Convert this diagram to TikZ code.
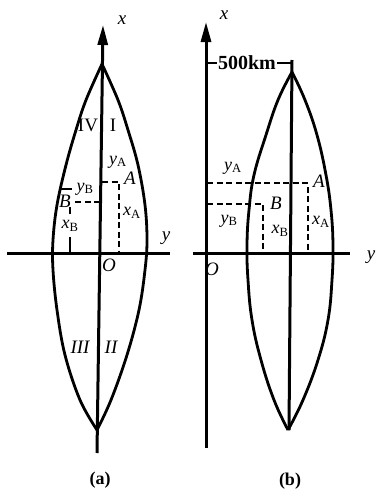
\documentclass[tikz,border=0pt]{standalone}
\usepackage{fontspec}
\setmainfont{Liberation Serif}
\usetikzlibrary{arrows.meta}
\newcommand{\mysub}[2]{\textit{#1}\textsubscript{\normalfont #2}}
\begin{document}
\begin{tikzpicture}[x=1pt,y=-1pt,
  axln/.style={line width=3pt},
  lensln/.style={line width=2.8pt, line join=round},
  dsh/.style={line width=2.2pt, dash pattern=on 6pt off 3.5pt},
  lbl/.style={font=\fontsize{19}{19}\selectfont\itshape, inner sep=0pt},
  sl/.style={font=\fontsize{18}{18}\selectfont, inner sep=0pt},
  rn/.style={font=\fontsize{19}{19}\selectfont, inner sep=0pt},
  captxt/.style={font=\fontsize{18}{18}\selectfont\bfseries, inner sep=0pt},
  axtip/.style={-{Triangle[length=20pt,width=10pt]}}
]
\useasboundingbox (0,0) rectangle (379,493);
% ---------- panel (a) ----------
\coordinate (aXb) at (97,453);
\coordinate (aXt) at (103,25);
\coordinate (aYl) at (7,253);
\coordinate (aYr) at (170,253);
\draw[axln,axtip] (aXb) -- (aXt);
\draw[axln] (aYl) -- (aYr);
\draw[lensln] plot[smooth,tension=0.6] coordinates {(102,64) (86,100) (76,130) (66,165) (57,205) (53,240) (53,270) (57,310) (65,355) (80,400) (97,430)};
\draw[lensln] plot[smooth,tension=0.6] coordinates {(102,64) (118,100) (128,130) (138,165) (145,205) (147,240) (145,270) (139,310) (127,355) (111,400) (97,430)};
% A
\coordinate (aA0) at (102,182);
\coordinate (aA1) at (119,182);
\coordinate (aA2) at (119,253);
\draw[dsh] (aA0) -- (aA1) -- (aA2);
% B
\coordinate (aB0) at (100,202);
\coordinate (aB1) at (72,202);
\coordinate (aB2) at (70,207);
\coordinate (aB3) at (70,214);
\coordinate (aB4) at (70,237);
\coordinate (aB5) at (70,253);
\draw[dsh] (aB0) -- (aB1);
\draw[line width=2.2pt] (aB2) -- (aB3);
\draw[line width=2.2pt] (aB4) -- (aB5);
\coordinate (aT0) at (60,189);
\coordinate (aT1) at (72,189);
\draw[line width=1.8pt] (aT0) -- (aT1);
% labels
\node[lbl] (ax) at (122,20) {x};
\node[lbl] (ay) at (166,238) {y};
\node[lbl] (aO) at (109,265) {O};
\node[rn] (aIV) at (88,125) {IV};
\node[rn] (aI) at (113,125) {I};
\node[rn,font=\fontsize{19}{19}\selectfont\itshape] (aIII) at (80,347) {III};
\node[rn,font=\fontsize{19}{19}\selectfont\itshape] (aII) at (111,347) {II};
\node[sl] (ayA) at (118,162) {\mysub{y}{A}};
\node[lbl] (aA) at (130,178) {A};
\node[sl] (ayB) at (85,189) {\mysub{y}{B}};
\node[lbl] (aB) at (65,201) {B};
\node[sl] (axA) at (132,213) {\mysub{x}{A}};
\node[sl] (axB) at (70,226) {\mysub{x}{B}};
\node[captxt] (capa) at (100,480) {(a)};
% ---------- panel (b) ----------
\coordinate (bXb) at (206,448);
\coordinate (bXt) at (206,22);
\coordinate (bYl) at (193,253);
\coordinate (bYr) at (350,253);
\draw[axln,axtip] (bXb) -- (bXt);
\draw[axln] (bYl) -- (bYr);
\coordinate (bCt) at (292,60);
\coordinate (bCb) at (289,430);
\draw[axln] (bCt) -- (bCb);
\draw[lensln] plot[smooth,tension=0.7] coordinates {(292,72) (278,100) (266,135) (254,175) (249,210) (247,245) (248,280) (252,320) (261,360) (274,400) (288,430)};
\draw[lensln] plot[smooth,tension=0.7] coordinates {(292,72) (305,100) (317,135) (326,175) (331,210) (333,245) (332,280) (328,320) (318,360) (303,400) (288,430)};
% 500km
\node[font=\fontsize{20}{20}\selectfont\bfseries, inner sep=1pt] (km) at (247,63) {500km};
\coordinate (bK0) at (206,63);
\coordinate (bK3) at (292,63);
\draw[line width=2.6pt] (bK0) -- (km.west);
\draw[line width=2.6pt] (km.east) -- (bK3);
% A
\coordinate (bA0) at (207,183);
\coordinate (bA1) at (308,183);
\coordinate (bA2) at (308,253);
\draw[dsh] (bA0) -- (bA1) -- (bA2);
% B
\coordinate (bB0) at (207,204);
\coordinate (bB1) at (263,204);
\coordinate (bB2) at (263,253);
\draw[dsh] (bB0) -- (bB1) -- (bB2);
% labels
\node[lbl] (bx) at (224,15) {x};
\node[lbl] (by) at (371,257) {y};
\node[lbl] (bO) at (212,269) {O};
\node[sl] (byA) at (233,168) {\mysub{y}{A}};
\node[lbl] (bA) at (319,181) {A};
\node[sl] (byB) at (229,221) {\mysub{y}{B}};
\node[lbl] (bB) at (276,203) {B};
\node[sl] (bxA) at (321,222) {\mysub{x}{A}};
\node[sl] (bxB) at (280,231) {\mysub{x}{B}};
\node[captxt] (capb) at (290,481) {(b)};
\end{tikzpicture}
\end{document}
